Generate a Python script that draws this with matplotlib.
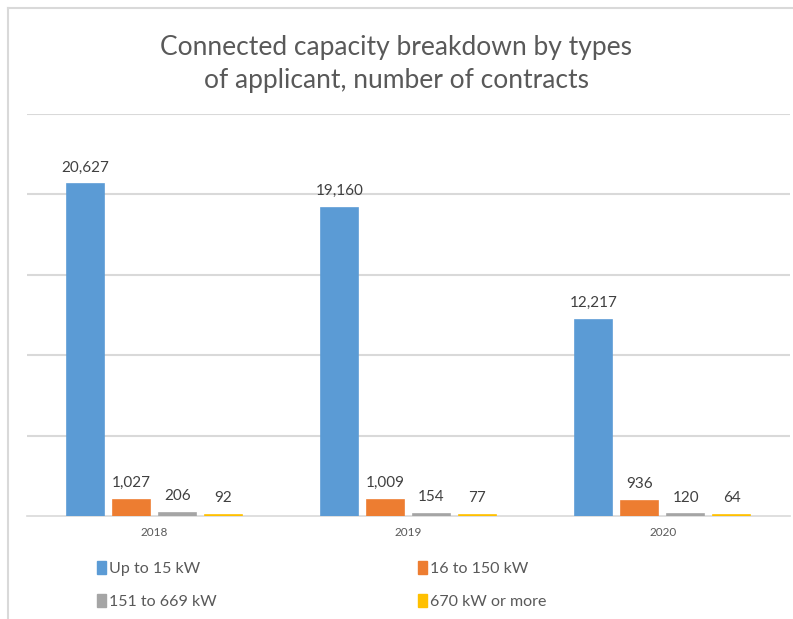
import matplotlib

matplotlib.use("Agg")
import matplotlib.pyplot as plt
from matplotlib.lines import Line2D
from matplotlib.patches import Patch
import numpy as np

plt.rcParams["font.family"] = ["Lato", "DejaVu Sans"]

years = ["2018", "2019", "2020"]
series_names = ["Up to 15 kW", "16 to 150 kW", "151 to 669 kW", "670 kW or more"]
up_to_15 = [20627, 19160, 12217]
kw_16_150 = [1027, 1009, 936]
kw_151_669 = [206, 154, 120]
kw_670_plus = [92, 77, 64]
colors = ["#5B9BD5", "#ED7D31", "#A5A5A5", "#FFC000"]

TEXT = "#595959"
GRID = "#D9D9D9"

fig = plt.figure(figsize=(7.93, 6.19), dpi=100)
ax = fig.add_axes([0.034, 0.166, 0.962, 0.650])

x = np.arange(len(years))
pitch = 0.181
width = 0.146
all_series = [up_to_15, kw_16_150, kw_151_669, kw_670_plus]
for i, (vals, col) in enumerate(zip(all_series, colors)):
    pos = x + (i - 1.5) * pitch
    ax.bar(pos, vals, width=width, color=col, edgecolor=col, lw=1.2, zorder=3)
    for px, v in zip(pos, vals):
        ax.annotate(f"{v:,}", (px, v), xytext=(0, 7), textcoords="offset points",
                    ha="center", va="bottom", fontsize=11, color="#404040")

ax.set_xlim(-0.5, 2.5)
ax.set_ylim(0, 25000)
ax.set_yticks([5000, 10000, 15000, 20000, 25000])
ax.yaxis.grid(True, color=GRID, lw=1.5, zorder=0)
ax.tick_params(axis="y", length=0, labelleft=False)
ax.tick_params(axis="x", length=0, pad=8)
ax.set_xticks(x)
ax.set_xticklabels(years, fontsize=8.5, color=TEXT)
for s in ["top", "right", "left"]:
    ax.spines[s].set_visible(False)
ax.spines["bottom"].set_color(GRID)
ax.spines["bottom"].set_linewidth(1.2)

fig.text(0.5, 0.897, "Connected capacity breakdown by types\nof applicant, number of contracts",
         ha="center", va="center", fontsize=19, color=TEXT, linespacing=1.4)

# outer frame (left and top edges)
fig.add_artist(Line2D([8 / 793, 8 / 793], [0, 1 - 8 / 619], color=GRID, lw=1.5))
fig.add_artist(Line2D([8 / 793, 1], [1 - 8 / 619, 1 - 8 / 619], color=GRID, lw=1.5))

order = [0, 2, 1, 3]
handles = [Patch(color=colors[i]) for i in order]
labels = [series_names[i] for i in order]
fig.legend(handles, labels, ncol=2, loc="center left",
           bbox_to_anchor=(0.122, 0.055), frameon=False, fontsize=11.5,
           labelcolor=TEXT, handlelength=0.6, handleheight=0.9,
           handletextpad=0.15, columnspacing=12.6, labelspacing=1.15,
           borderaxespad=0, borderpad=0)

fig.savefig("out.png", dpi=100)
